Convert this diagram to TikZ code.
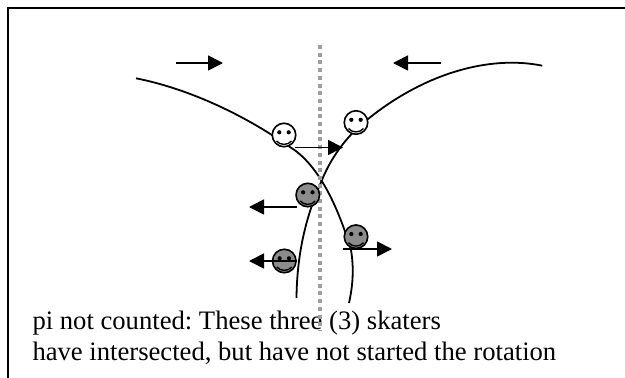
\documentclass[tikz,border=0pt]{standalone}
\usepackage{fontspec}
\setmainfont{Liberation Serif}
\usetikzlibrary{arrows.meta}
\frenchspacing
\tikzset{
  x=1pt,y=-1pt,
  track/.style={line width=1.8pt,black},
  motion/.style={line width=1.7pt,black,-{Triangle[length=15pt,width=15pt]}},
  lightface/.style={circle,draw=black,line width=1.6pt,fill=white,minimum size=23.5pt,inner sep=0pt},
  darkface/.style={circle,draw=black,line width=1.6pt,fill=black!45,minimum size=23.5pt,inner sep=0pt},
  caption/.style={anchor=base west,inner sep=0pt,font=\fontsize{26.64pt}{28pt}\selectfont}
}
\newcommand{\facemarks}[1]{%
  \begin{scope}[shift={(#1)}]
  \fill (-4.7,-2.7) circle (2.1pt);
  \fill (4.7,-2.7) circle (2.1pt);
  \draw[line width=1.4pt] (-7.5,6) .. controls (-4,10.5) and (4,10.5) .. (7.5,6);
  \end{scope}
}
\begin{document}
\begin{tikzpicture}
\useasboundingbox (0,0) rectangle (625,378);
\fill[white] (0,0) rectangle (625,378);
\draw[line width=1.7pt] (8,378) -- (8,8) -- (625,8);
\node[caption] (line1) at (32.3,329.5) {pi not counted: These three (3) skaters};
\node[caption] (line2) at (32.3,360) {have intersected, but have not started the rotation};
\draw[track] (136,78.3) .. controls (185,88) and (240,112) .. (290,147)
  .. controls (316,163) and (336,200) .. (351,250)
  .. controls (354,268) and (353,285) .. (349,303);
\draw[track] (542.3,65.7) .. controls (490,55) and (425,73) .. (368,119)
  .. controls (345,137) and (330,160) .. (322,180)
  .. controls (310,207) and (297,245) .. (296.5,298);
\draw[line width=3.3pt,black!38,dash pattern=on 4pt off 3.7pt] (320,45) -- (320,330);
\node[lightface] (f1) at (284,135) {};
\node[lightface] (f2) at (356,122.5) {};
\node[darkface] (f3) at (307.8,195) {};
\node[darkface] (f4) at (356,236.7) {};
\node[darkface] (f5) at (284.3,261) {};
\foreach \f in {f1,f2,f3,f4,f5}{\facemarks{\f}}
\coordinate (a1s) at (176,63); \coordinate (a1e) at (223,63);
\coordinate (a2s) at (441,63); \coordinate (a2e) at (393,63);
\coordinate (a3s) at (295,147.5); \coordinate (a3e) at (343,147.5);
\coordinate (a4s) at (297,207); \coordinate (a4e) at (249,207);
\coordinate (a5s) at (297,261); \coordinate (a5e) at (249,261);
\coordinate (a6s) at (343,249); \coordinate (a6e) at (392,249);
\draw[motion] (a1s) -- (a1e);
\draw[motion] (a2s) -- (a2e);
\draw[motion] (a3s) -- (a3e);
\draw[motion] (a4s) -- (a4e);
\draw[motion] (a5s) -- (a5e);
\draw[motion] (a6s) -- (a6e);
\end{tikzpicture}
\end{document}
